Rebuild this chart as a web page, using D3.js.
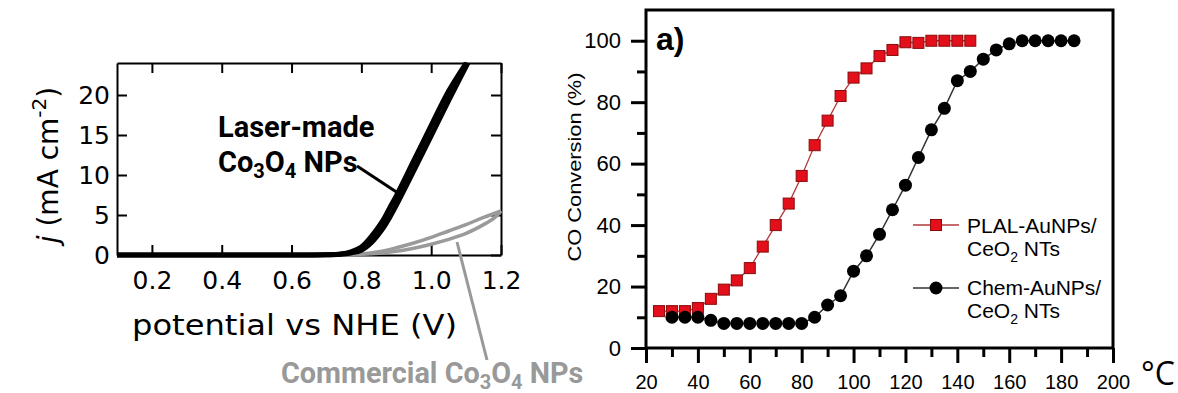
<!DOCTYPE html>
<html>
<head>
<meta charset="utf-8">
<script src="https://cdn.jsdelivr.net/npm/d3@7/dist/d3.min.js"></script>
<style>
  body { margin: 0; background: #fff; }
  svg { display: block; }
</style>
</head>
<body>
<div id="chart"></div>
<script>
// Left panel: polarisation curves (potential in V, current density in mA cm-2)
const laserFwdV = [0.10, 0.30, 0.50, 0.70, 0.74, 0.77, 0.80, 0.83, 0.86, 0.88, 0.90, 0.95, 1.00, 1.05, 1.105];
const laserFwdJ = [0, 0, 0, 0.02, 0.08, 0.25, 0.6, 1.6, 3.2, 4.6, 6.2, 10.5, 14.9, 19.3, 24];
const laserRevV = [1.10, 1.05, 1.00, 0.95, 0.90, 0.88, 0.86, 0.83, 0.80, 0.77, 0.74, 0.70, 0.50, 0.30, 0.10];
const laserRevJ = [24, 20.5, 16.2, 11.8, 7.4, 5.8, 4.2, 2.4, 1.0, 0.4, 0.12, 0.03, 0, 0, 0];
const commUpV = [0.74, 0.80, 0.85, 0.90, 0.95, 1.00, 1.05, 1.10, 1.15, 1.20];
const commUpJ = [0, 0.12, 0.4, 0.9, 1.5, 2.2, 3.0, 3.8, 4.7, 5.5];
const commDownV = [1.20, 1.18, 1.15, 1.10, 1.05, 1.00, 0.95, 0.90, 0.85, 0.80, 0.74];
const commDownJ = [5.5, 4.6, 3.8, 2.7, 1.95, 1.35, 0.85, 0.47, 0.22, 0.08, 0];
const leftXTicks = [0.2, 0.4, 0.6, 0.8, 1.0, 1.2];
const leftYTicks = [0, 5, 10, 15, 20];

// Right panel: CO conversion (%) vs temperature (°C)
const plalT = [25, 30, 35, 40, 45, 50, 55, 60, 65, 70, 75, 80, 85, 90, 95, 100, 105, 110, 115, 120, 125, 130, 135, 140, 145];
const plalConv = [12, 12, 12, 13, 16, 19, 22, 26, 33, 40, 47, 56, 66, 74, 82, 88, 91, 95, 97, 99.5, 99.3, 100, 100, 100, 100];
const chemT = [30, 35, 40, 45, 50, 55, 60, 65, 70, 75, 80, 85, 90, 95, 100, 105, 110, 115, 120, 125, 130, 135, 140, 145, 150, 155, 160, 165, 170, 175, 180, 185];
const chemConv = [10, 10, 10, 9, 8, 8, 8, 8, 8, 8, 8, 10, 14, 17, 25, 30, 37, 45, 53, 62, 71, 78, 87, 90, 94, 97, 99, 100, 100, 100, 100, 100];
const rightXTicks = [20, 40, 60, 80, 100, 120, 140, 160, 180, 200];
const rightYTicks = [0, 20, 40, 60, 80, 100];

const W = 1178, H = 393;
const svg = d3.select("#chart").append("svg").attr("width", W).attr("height", H);
const zip = (a, b) => a.map((v, i) => [v, b[i]]);

// ---------- left panel ----------
const lx = d3.scaleLinear().domain([0.1, 1.2]).range([117, 501]);
const ly = d3.scaleLinear().domain([0, 24]).range([255, 63]);
const left = svg.append("g");
const tickFont = "'DejaVu Sans', Verdana, sans-serif";

function styleAxis(g) {
  g.selectAll("path.domain").attr("stroke", "#000").attr("stroke-width", 2);
  g.selectAll(".tick line").attr("stroke", "#000").attr("stroke-width", 2);
}

left.append("g").attr("transform", `translate(0,${ly(0)})`)
  .call(d3.axisBottom(lx).tickValues(leftXTicks).tickFormat(d3.format(".1f")).tickSizeInner(-10).tickSizeOuter(0).tickPadding(16))
  .call(styleAxis)
  .call(g => g.selectAll("text").attr("font-family", tickFont).attr("font-size", 25).attr("fill", "#000"));
left.append("g").attr("transform", `translate(0,${ly(24)})`)
  .call(d3.axisTop(lx).tickValues(leftXTicks).tickFormat("").tickSizeInner(-10).tickSizeOuter(0))
  .call(styleAxis);
left.append("g").attr("transform", `translate(${lx(0.1)},0)`)
  .call(d3.axisLeft(ly).tickValues(leftYTicks).tickSizeInner(-10).tickSizeOuter(0).tickPadding(7))
  .call(styleAxis)
  .call(g => g.selectAll("text").attr("font-family", tickFont).attr("font-size", 25).attr("fill", "#000"));
left.append("g").attr("transform", `translate(${lx(1.2)},0)`)
  .call(d3.axisRight(ly).tickValues(leftYTicks).tickFormat("").tickSizeInner(-10).tickSizeOuter(0))
  .call(styleAxis);

const lline = d3.line().x(d => lx(d[0])).y(d => ly(d[1])).curve(d3.curveCatmullRom);

// commercial scans (grey loop)
[zip(commUpV, commUpJ), zip(commDownV, commDownJ)].forEach(pts => {
  left.append("path").attr("d", lline(pts))
    .attr("fill", "none").attr("stroke", "#9a9a9a").attr("stroke-width", 3.5);
});
// laser-made scans (black band)
[zip(laserFwdV, laserFwdJ), zip(laserRevV, laserRevJ)].forEach(pts => {
  left.append("path").attr("d", lline(pts))
    .attr("fill", "none").attr("stroke", "#000").attr("stroke-width", 5);
});

// axis titles
left.append("text")
  .attr("x", (132 + 457) / 2).attr("y", 335)
  .attr("text-anchor", "middle")
  .attr("font-family", tickFont).attr("font-size", 28)
  .attr("textLength", 325).attr("lengthAdjust", "spacingAndGlyphs")
  .text("potential vs NHE (V)");

const yl = left.append("text")
  .attr("transform", "translate(58,165) rotate(-90)")
  .attr("text-anchor", "middle")
  .attr("font-family", tickFont).attr("font-size", 28);
yl.append("tspan").attr("font-style", "italic").text("j");
yl.append("tspan").text(" (mA cm");
yl.append("tspan").attr("font-size", 20).attr("dy", -12).text("-2");
yl.append("tspan").attr("dy", 12).text(")");

// annotations
const annFont = "Roboto, 'Noto Sans', sans-serif";
function formula(el, pre, post) {
  el.append("tspan").text(pre + "Co");
  el.append("tspan").attr("font-size", 20).attr("dy", 6).text("3");
  el.append("tspan").attr("dy", -6).text("O");
  el.append("tspan").attr("font-size", 20).attr("dy", 6).text("4");
  el.append("tspan").attr("dy", -6).text(post);
}
left.append("text").attr("x", 218).attr("y", 137)
  .attr("font-family", annFont).attr("font-weight", "bold").attr("font-size", 29)
  .text("Laser-made");
formula(left.append("text").attr("x", 218).attr("y", 172)
  .attr("font-family", annFont).attr("font-weight", "bold").attr("font-size", 29), "", " NPs");
left.append("line").attr("x1", 357).attr("y1", 166).attr("x2", 401).attr("y2", 195)
  .attr("stroke", "#000").attr("stroke-width", 3);

formula(left.append("text").attr("x", 281).attr("y", 383)
  .attr("font-family", annFont).attr("font-weight", "bold").attr("font-size", 28.8)
  .attr("fill", "#999"), "Commercial ", " NPs");
left.append("line").attr("x1", 457).attr("y1", 242).attr("x2", 487).attr("y2", 360)
  .attr("stroke", "#999").attr("stroke-width", 3);

// ---------- right panel ----------
const rx = d3.scaleLinear().domain([20, 200]).range([646, 1113]);
const ry = d3.scaleLinear().domain([0, 110]).range([348, 10]);
const right = svg.append("g");
const arial = "'Liberation Sans', Arial, sans-serif";

right.append("rect")
  .attr("x", rx(20)).attr("y", ry(110))
  .attr("width", rx(200) - rx(20)).attr("height", ry(0) - ry(110))
  .attr("fill", "none").attr("stroke", "#000").attr("stroke-width", 3);

function tickStyle(g) {
  g.select(".domain").remove();
  g.selectAll(".tick line").attr("stroke", "#000").attr("stroke-width", 3);
}
right.append("g").attr("transform", `translate(0,${ry(0)})`)
  .call(d3.axisBottom(rx).tickValues(d3.range(30, 200, 20)).tickFormat("").tickSizeInner(9).tickSizeOuter(0))
  .call(tickStyle);
right.append("g").attr("transform", `translate(0,${ry(0)})`)
  .call(d3.axisBottom(rx).tickValues(rightXTicks).tickSizeInner(15).tickSizeOuter(0).tickPadding(12))
  .call(tickStyle)
  .call(g => g.selectAll("text").attr("font-family", arial).attr("font-size", 20).attr("fill", "#000"));
right.append("g").attr("transform", `translate(${rx(20)},0)`)
  .call(d3.axisLeft(ry).tickValues(d3.range(10, 110, 20)).tickFormat("").tickSizeInner(9).tickSizeOuter(0))
  .call(tickStyle);
right.append("g").attr("transform", `translate(${rx(20)},0)`)
  .call(d3.axisLeft(ry).tickValues(rightYTicks).tickSizeInner(15).tickSizeOuter(0).tickPadding(10))
  .call(tickStyle)
  .call(g => g.selectAll("text").attr("font-family", arial).attr("font-size", 22).attr("fill", "#000"));

right.append("text")
  .attr("transform", "translate(581,167) rotate(-90)")
  .attr("text-anchor", "middle")
  .attr("font-family", arial).attr("font-size", 18)
  .attr("textLength", 189).attr("lengthAdjust", "spacingAndGlyphs")
  .text("CO Conversion (%)");

right.append("text").attr("x", 656).attr("y", 50)
  .attr("font-family", arial).attr("font-weight", "bold").attr("font-size", 32)
  .text("a)");

right.append("text").attr("x", 1141).attr("y", 385)
  .attr("font-family", "'Open Sans', 'DejaVu Sans', sans-serif").attr("font-size", 32)
  .text("°C");

const cline = d3.line().x(d => rx(d[0])).y(d => ry(d[1]));
right.append("path").attr("d", cline(zip(plalT, plalConv)))
  .attr("fill", "none").attr("stroke", "#b33a3a").attr("stroke-width", 1.3);
right.append("path").attr("d", cline(zip(chemT, chemConv)))
  .attr("fill", "none").attr("stroke", "#333").attr("stroke-width", 1.5);

right.selectAll("rect.plal").data(zip(plalT, plalConv)).enter().append("rect")
  .attr("class", "plal")
  .attr("x", d => rx(d[0]) - 5.5).attr("y", d => ry(d[1]) - 5.5)
  .attr("width", 11).attr("height", 11)
  .attr("fill", "#e3101b").attr("stroke", "#8a0a0a").attr("stroke-width", 1);
right.selectAll("circle.chem").data(zip(chemT, chemConv)).enter().append("circle")
  .attr("class", "chem")
  .attr("cx", d => rx(d[0])).attr("cy", d => ry(d[1])).attr("r", 6.5)
  .attr("fill", "#000");

// legend
const legend = right.append("g").attr("font-family", arial).attr("font-size", 21);
function legendName(y, name) {
  legend.append("text").attr("x", 967).attr("y", y).text(name);
  const t = legend.append("text").attr("x", 967).attr("y", y + 23);
  t.append("tspan").text("CeO");
  t.append("tspan").attr("font-size", 14).attr("dy", 6).text("2");
  t.append("tspan").attr("dy", -6).text(" NTs");
}
legend.append("line").attr("x1", 913).attr("x2", 959).attr("y1", 225).attr("y2", 225)
  .attr("stroke", "#b33a3a").attr("stroke-width", 1.3);
legend.append("rect").attr("x", 936 - 5.5).attr("y", 225 - 5.5).attr("width", 11).attr("height", 11)
  .attr("fill", "#e3101b").attr("stroke", "#8a0a0a").attr("stroke-width", 1);
legendName(233, "PLAL-AuNPs/");
legend.append("line").attr("x1", 913).attr("x2", 959).attr("y1", 288).attr("y2", 288)
  .attr("stroke", "#333").attr("stroke-width", 1.5);
legend.append("circle").attr("cx", 936).attr("cy", 288).attr("r", 6.5).attr("fill", "#000");
legendName(295, "Chem-AuNPs/");
</script>
</body>
</html>
